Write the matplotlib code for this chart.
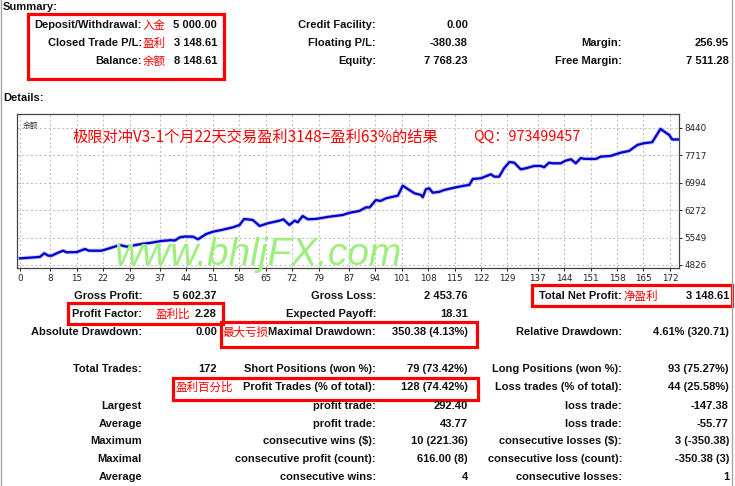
import matplotlib.pyplot as plt
from matplotlib.patches import Rectangle

W, H = 735, 486
DPI = 100
EN_FONT = "Liberation Sans"
CJK_FONT = ["Noto Sans CJK SC", "DejaVu Sans"]

# balance curve
trade_idx = [0, 4, 5.3, 6.4, 7.5, 8.4, 9.7, 11.4, 12.3, 15, 17.2, 18.2, 21.6,
             24.2, 26.4, 28.2, 32.1, 34.8, 37.4, 40, 41, 42.3, 43.6, 45.8,
             47.1, 49.3, 51.1, 53.3, 56.4, 58.1, 59.3, 61.6, 63.4, 65.6, 68.7,
             69.7, 71.3, 72.7, 73.5, 74.8, 76.2, 78.4, 81.9, 85.4, 87.2, 89.8,
             91.6, 92.5, 94.2, 95.4, 96.9, 100, 101.3, 102.6, 104.4, 106.1,
             106.6, 107.4, 108.3, 109.2, 110.9, 112.3, 114.9, 117.6, 118.9,
             119.8, 122, 124.6, 125.5, 126.8, 128.1, 129.5, 130.8, 132.5,
             133.9, 136.1, 137.8, 138.7, 140, 140.9, 143.1, 144.4, 145.8,
             147.1, 148.4, 149.3, 152.4, 153.7, 156.3, 159, 161.2, 163.4,
             165.1, 167.3, 169.5, 170.9, 171.8, 172.6, 174.4]
balance = [5000, 5029, 5040, 5134, 5071, 5071, 5134, 5203, 5160, 5165, 5247,
           5203, 5203, 5282, 5353, 5308, 5379, 5413, 5458, 5480, 5470, 5555,
           5575, 5571, 5503, 5642, 5703, 5747, 5819, 5879, 6037, 6011, 5853,
           5924, 5993, 6029, 5879, 5993, 5950, 6116, 6029, 6040, 6098, 6142,
           6200, 6248, 6345, 6340, 6537, 6511, 6582, 6651, 6914, 6827, 6714,
           6669, 6609, 6819, 6845, 6730, 6750, 6801, 6861, 6914, 6932, 7090,
           7109, 7214, 7151, 7151, 7372, 7535, 7519, 7345, 7372, 7433, 7433,
           7398, 7519, 7503, 7503, 7572, 7609, 7503, 7641, 7620, 7617, 7678,
           7696, 7783, 7828, 7986, 8030, 8057, 8407, 8309, 8249, 8130, 8130]

x_ticks = [0, 8, 15, 22, 29, 37, 44, 51, 58, 65, 72, 79, 87, 94, 101, 108,
           115, 122, 129, 137, 144, 151, 158, 165, 172]
y_ticks = [4826, 5549, 6272, 6994, 7717, 8440]

summary_labels_1 = ["Deposit/Withdrawal:", "Closed Trade P/L:", "Balance:"]
summary_values_1 = ["5 000.00", "3 148.61", "8 148.61"]
summary_notes_1 = ["入金", "盈利", "余额"]
summary_labels_2 = ["Credit Facility:", "Floating P/L:", "Equity:"]
summary_values_2 = ["0.00", "-380.38", "7 768.23"]
summary_labels_3 = ["", "Margin:", "Free Margin:"]
summary_values_3 = ["", "256.95", "7 511.28"]

details_labels_1 = ["Gross Profit:", "Profit Factor:", "Absolute Drawdown:", "",
                    "Total Trades:", "", "Largest", "Average", "Maximum",
                    "Maximal", "Average"]
details_values_1 = ["5 602.37", "2.28", "0.00", "", "172", "", "", "", "", "", ""]
details_labels_2 = ["Gross Loss:", "Expected Payoff:", "Maximal Drawdown:", "",
                    "Short Positions (won %):", "Profit Trades (% of total):",
                    "profit trade:", "profit trade:", "consecutive wins ($):",
                    "consecutive profit (count):", "consecutive wins:"]
details_values_2 = ["2 453.76", "18.31", "350.38 (4.13%)", "", "79 (73.42%)",
                    "128 (74.42%)", "292.40", "43.77", "10 (221.36)",
                    "616.00 (8)", "4"]
details_labels_3 = ["Total Net Profit:", "", "Relative Drawdown:", "",
                    "Long Positions (won %):", "Loss trades (% of total):",
                    "loss trade:", "loss trade:", "consecutive losses ($):",
                    "consecutive loss (count):", "consecutive losses:"]
details_values_3 = ["3 148.61", "", "4.61% (320.71)", "", "93 (75.27%)",
                    "44 (25.58%)", "-147.38", "-55.77", "3 (-350.38)",
                    "-350.38 (3)", "1"]

chart_title = "极限对冲V3-1个月22天交易盈利3148=盈利63%的结果"
chart_qq = "QQ：973499457"
watermark = "www.bhljFX.com"

SUMMARY_Y = [25, 43, 61]
DETAILS_Y = [296, 314, 332, 350, 369, 387, 405.5, 423.5, 441, 459, 477]
# (label right edge, value right edge) in pixels
COLS = [(142, 217), (376, 468), (622, 729)]
RED = "#ff0000"
TXT = "#111111"

fig = plt.figure(figsize=(W / DPI, H / DPI), dpi=DPI)
fig.patch.set_facecolor("white")

# balance chart
ax = fig.add_axes([17 / W, 1 - 268 / H, 662 / W, 154 / H])
ax.plot(trade_idx, balance, color="#7a7aff", lw=2.9, alpha=0.45,
        solid_joinstyle="round")
ax.plot(trade_idx, balance, color="#0000c8", lw=1.6, solid_joinstyle="round")
ax.set_xlim(-0.8, 174.4)
ax.set_ylim(4747, 8800)
ax.set_xticks(x_ticks)
ax.set_yticks(y_ticks)
ax.yaxis.tick_right()
ax.tick_params(axis="both", labelsize=6.3, length=2.5, width=0.7,
               colors="#222222", pad=1.5)
ax.grid(True, color="#c4c4c4", linestyle=(0, (2, 2)), lw=0.8)
for s in ax.spines.values():
    s.set_color("#444444")
    s.set_linewidth(0.9)
ax.text(0.008, 0.95, "余额", transform=ax.transAxes, fontsize=5.5,
        family=CJK_FONT, color="#333333", va="top")

# overlay in pixel coordinates for all the report text
ov = fig.add_axes([0, 0, 1, 1])
ov.set_xlim(0, W)
ov.set_ylim(H, 0)
ov.axis("off")
ov.patch.set_visible(False)


def label(x, y, s, ha="right", color=TXT):
    ov.text(x, y, s, ha=ha, va="center", fontsize=8, fontweight="bold",
            family=EN_FONT, color=color)


def note(x, y, s):
    ov.text(x, y, s, ha="left", va="center", fontsize=8.3, family=CJK_FONT,
            color=RED)


def box(x0, y0, x1, y1):
    ov.add_patch(Rectangle((x0, y0), x1 - x0, y1 - y0, fill=False,
                           edgecolor=RED, lw=2.3))


# page borders
ov.plot([1, 1], [0, H], color="#a8a8a8", lw=1)
ov.plot([732, 732], [0, H], color="#a8a8a8", lw=1)

label(3, 7, "Summary:", ha="left")
label(3, 98, "Details:", ha="left")

summary = [(summary_labels_1, summary_values_1),
           (summary_labels_2, summary_values_2),
           (summary_labels_3, summary_values_3)]
for (lx, vx), (labels, values) in zip(COLS, summary):
    for y, lab, val in zip(SUMMARY_Y, labels, values):
        label(lx, y, lab)
        label(vx, y, val)
for y, s in zip(SUMMARY_Y, summary_notes_1):
    note(143, y, s)

details = [(details_labels_1, details_values_1),
           (details_labels_2, details_values_2),
           (details_labels_3, details_values_3)]
for (lx, vx), (labels, values) in zip(COLS, details):
    for y, lab, val in zip(DETAILS_Y, labels, values):
        label(lx, y, lab)
        label(vx, y, val)

note(623, DETAILS_Y[0], "净盈利")
note(156, DETAILS_Y[1], "盈利比")
note(222, DETAILS_Y[2], "最大亏损")
note(176, DETAILS_Y[5], "盈利百分比")

box(28, 14, 224, 79)
box(532, 285, 732, 306)
box(68, 303, 223, 324)
box(221, 322, 477, 347)
box(173, 378, 478, 400)

# chart annotations
ov.text(73, 137, chart_title, ha="left", va="center", fontsize=11,
        family=CJK_FONT, color=RED)
ov.text(473, 137, chart_qq, ha="left", va="center", fontsize=10.3,
        family=CJK_FONT, color=RED)
ov.text(114, 265, watermark, ha="left", va="baseline", fontsize=28,
        family=EN_FONT, style="italic", color="#9cef7c")

fig.savefig("out.png", dpi=DPI)
